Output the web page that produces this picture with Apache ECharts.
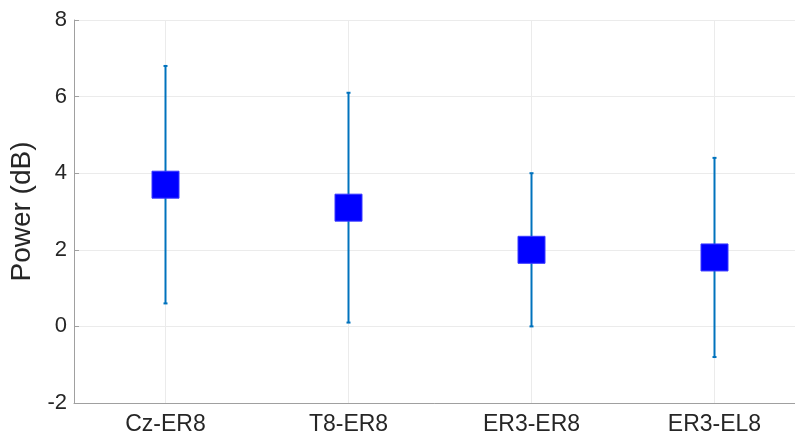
<!DOCTYPE html>
<html>
<head>
<meta charset="utf-8">
<script src="https://cdn.jsdelivr.net/npm/echarts@6/dist/echarts.min.js"></script>
<style>
html, body { margin: 0; padding: 0; background: #fff; }
#echarts_id { width: 795px; height: 439px; }
</style>
</head>
<body>
<div id="echarts_id"></div>
<script>
// 数据
var categories = ['Cz-ER8', 'T8-ER8', 'ER3-ER8', 'ER3-EL8'];
var meanValues = [3.7, 3.1, 2.0, 1.8];
var lowValues = [0.6, 0.1, 0.0, -0.8];
var highValues = [6.8, 6.1, 4.0, 4.4];
var yTicks = [-2, 0, 2, 4, 6, 8];

var errorData = categories.map(function (c, i) {
    return [i, lowValues[i], highValues[i]];
});

var myChart = echarts.init(document.getElementById('echarts_id'));

var fontFam = 'Liberation Sans, Arial, sans-serif';

option = {
    animation: false,
    grid: { left: 74, right: -11, top: 20, bottom: 36, outerBoundsMode: 'none', containLabel: false },
    xAxis: {
        type: 'category',
        data: categories,
        boundaryGap: true,
        axisLine: { onZero: false, lineStyle: { color: '#a0a0a0', width: 1 } },
        axisTick: { alignWithLabel: true, inside: true, length: 5, lineStyle: { color: '#a0a0a0' } },
        axisLabel: { margin: 10, fontFamily: fontFam, fontSize: 23, color: '#262626' },
        splitLine: { show: false }
    },
    yAxis: {
        type: 'value',
        min: yTicks[0],
        max: yTicks[yTicks.length - 1],
        interval: 2,
        name: 'Power (dB)',
        nameLocation: 'middle',
        nameGap: 34,
        nameTextStyle: { fontFamily: fontFam, fontSize: 28, color: '#262626' },
        axisLine: { show: true, lineStyle: { color: '#a0a0a0', width: 1 } },
        axisTick: { show: true, inside: true, length: 5, lineStyle: { color: '#a0a0a0' } },
        axisLabel: { margin: 7, fontFamily: fontFam, fontSize: 22, color: '#262626' },
        splitLine: { show: true, lineStyle: { color: '#ebebeb', width: 1 } }
    },
    series: [
        {
            // 竖向网格线（类别位置）
            type: 'custom',
            silent: true,
            z: 1,
            data: categories.map(function (c, i) { return [i]; }),
            renderItem: function (params, api) {
                var top = api.coord([api.value(0), yTicks[yTicks.length - 1]]);
                var bot = api.coord([api.value(0), yTicks[0]]);
                return {
                    type: 'line',
                    shape: { x1: top[0], y1: top[1], x2: bot[0], y2: bot[1] },
                    style: { stroke: '#ebebeb', lineWidth: 1 }
                };
            }
        },
        {
            // 误差线
            type: 'custom',
            z: 2,
            data: errorData,
            renderItem: function (params, api) {
                var lo = api.coord([api.value(0), api.value(1)]);
                var hi = api.coord([api.value(0), api.value(2)]);
                var w = 2;
                var st = { stroke: '#0072BD', lineWidth: 2 };
                return {
                    type: 'group',
                    children: [
                        { type: 'line', shape: { x1: hi[0], y1: hi[1], x2: lo[0], y2: lo[1] }, style: st },
                        { type: 'line', shape: { x1: hi[0] - w, y1: hi[1], x2: hi[0] + w, y2: hi[1] }, style: st },
                        { type: 'line', shape: { x1: lo[0] - w, y1: lo[1], x2: lo[0] + w, y2: lo[1] }, style: st }
                    ]
                };
            }
        },
        {
            type: 'scatter',
            z: 3,
            symbol: 'rect',
            symbolSize: 27,
            data: meanValues,
            itemStyle: { color: '#0000ff', borderColor: '#3a3aff', borderWidth: 1, opacity: 1 }
        }
    ]
};

myChart.setOption(option);
</script>
</body>
</html>
